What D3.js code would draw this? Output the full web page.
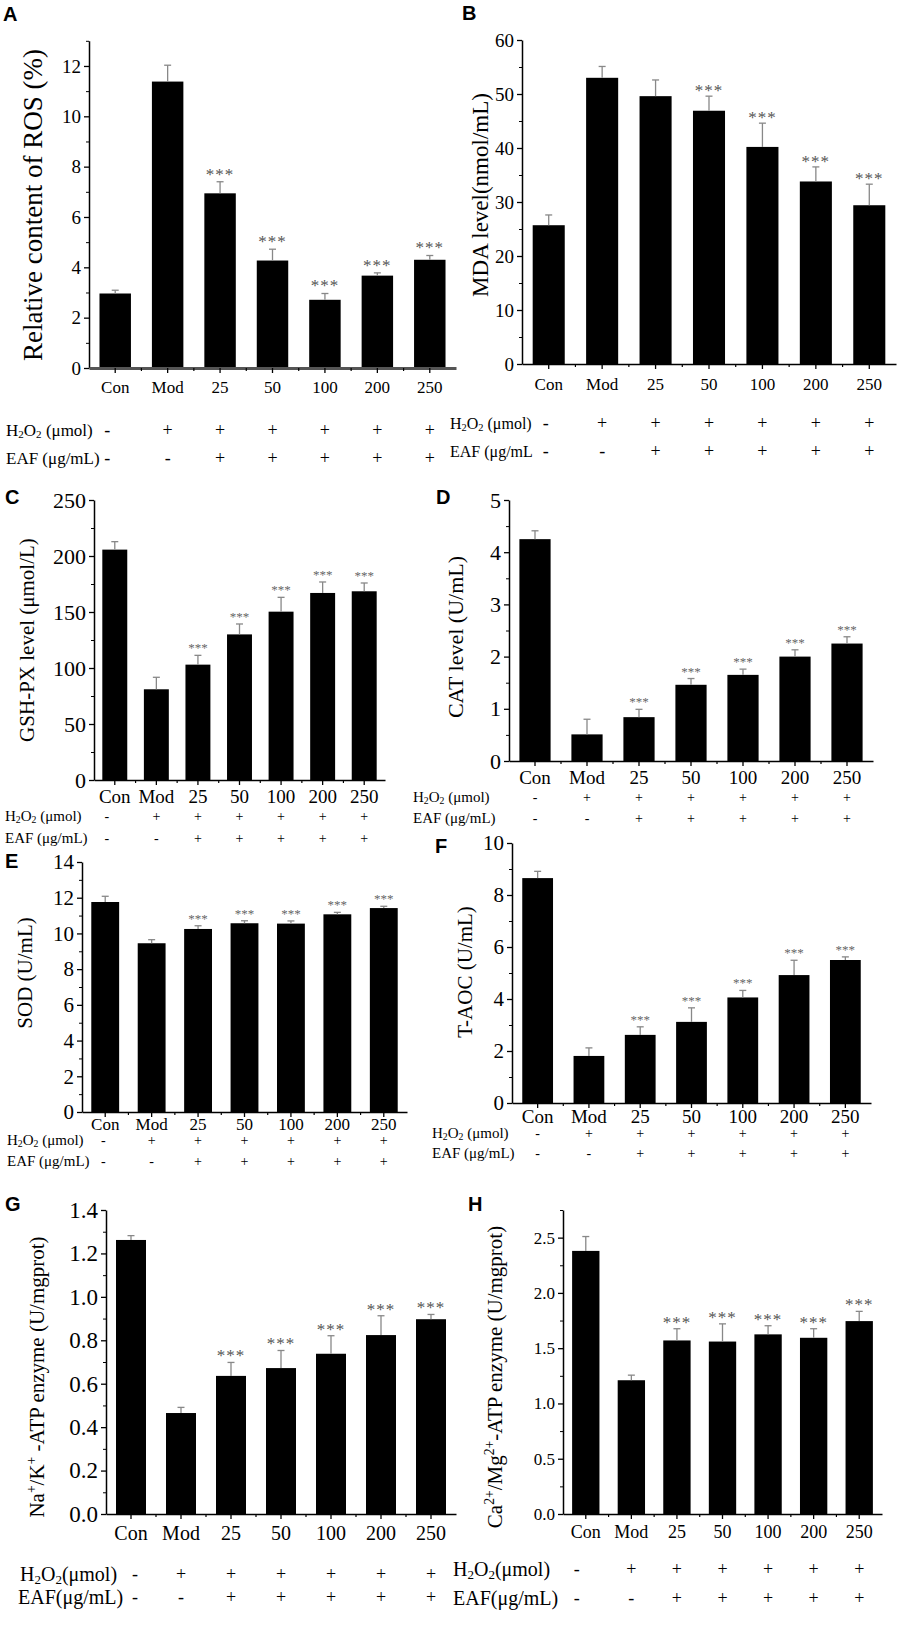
<html>
<head>
<script src="https://cdn.jsdelivr.net/npm/d3@7"></script>
<style>
  body { margin: 0; background: #fff; }
  svg { display: block; background: #fff; }
  text { font-family: "Liberation Serif", "Times New Roman", serif; }
  .letter { font-family: "Liberation Sans", Arial, sans-serif; font-weight: bold; }
</style>
</head>
<body>
<div id="fig"></div>
<script>
// ---- data ----
var categories = ["Con", "Mod", "25", "50", "100", "200", "250"];
var h2o2Signs = ["-", "+", "+", "+", "+", "+", "+"];
var eafSigns  = ["-", "-", "+", "+", "+", "+", "+"];

var rosMean  = [2.96, 11.38, 6.94, 4.27, 2.71, 3.67, 4.30];
var rosSd    = [0.13, 0.65, 0.46, 0.45, 0.25, 0.11, 0.17];
var rosStars = [0, 0, 1, 1, 1, 1, 1];

var mdaMean  = [25.7, 53.0, 49.6, 46.9, 40.2, 33.8, 29.4];
var mdaSd    = [1.9, 2.1, 3.0, 2.7, 4.4, 2.7, 3.9];
var mdaStars = [0, 0, 0, 1, 1, 1, 1];

var gshMean  = [205.7, 81, 103, 130, 150.3, 167, 168.5];
var gshSd    = [7.1, 10.7, 8.3, 9.3, 12.8, 9.8, 7.4];
var gshStars = [0, 0, 1, 1, 1, 1, 1];

var catMean  = [4.25, 0.51, 0.84, 1.46, 1.65, 2.0, 2.25];
var catSd    = [0.16, 0.29, 0.15, 0.12, 0.11, 0.13, 0.13];
var catStars = [0, 0, 1, 1, 1, 1, 1];

var sodMean  = [11.76, 9.45, 10.25, 10.57, 10.55, 11.07, 11.42];
var sodSd    = [0.32, 0.20, 0.18, 0.14, 0.15, 0.11, 0.10];
var sodStars = [0, 0, 1, 1, 1, 1, 1];

var taocMean  = [8.65, 1.81, 2.62, 3.12, 4.06, 4.92, 5.50];
var taocSd    = [0.26, 0.31, 0.31, 0.54, 0.27, 0.57, 0.12];
var taocStars = [0, 0, 1, 1, 1, 1, 1];

var nakMean  = [1.262, 0.465, 0.636, 0.672, 0.738, 0.824, 0.897];
var nakSd    = [0.02, 0.026, 0.062, 0.081, 0.083, 0.089, 0.022];
var nakStars = [0, 0, 1, 1, 1, 1, 1];

var camgMean  = [2.38, 1.21, 1.57, 1.56, 1.625, 1.594, 1.745];
var camgSd    = [0.13, 0.046, 0.106, 0.16, 0.078, 0.082, 0.088];
var camgStars = [0, 0, 1, 1, 1, 1, 1];

var width = 902, height = 1637;
var svg = d3.select("#fig").append("svg").attr("width", width).attr("height", height);

// writes "H_{2}O_{2}" / "Na^{+}" style strings as tspans
function rich(sel, str) {
  var re = /([_^])\{([^}]*)\}|([^_^]+)/g, m;
  while ((m = re.exec(str)) !== null) {
    if (m[3]) { sel.append("tspan").text(m[3]); }
    else {
      sel.append("tspan").text(m[2])
        .attr("font-size", "65%")
        .attr("baseline-shift", m[1] == "_" ? "-20%" : "60%");
    }
  }
}

function panel(p) {
  var g = svg.append("g");
  var x = d3.scaleBand().domain(categories).range([p.x0, p.x1]).paddingInner(0.4).paddingOuter(0.2);
  var y = d3.scaleLinear().domain([0, p.yMax]).range([p.y0, p.yTop]);
  var cx = function(i) { return x(categories[i]) + x.bandwidth() / 2; };

  // bars
  g.selectAll("rect.bar").data(p.mean).join("rect")
    .attr("class", "bar")
    .attr("x", function(d, i) { return x(categories[i]); })
    .attr("width", x.bandwidth())
    .attr("y", function(d) { return y(d); })
    .attr("height", function(d) { return y(0) - y(d); })
    .attr("fill", "#000");

  // error bars (upper only)
  g.selectAll("line.err").data(p.mean).join("line")
    .attr("class", "err")
    .attr("x1", function(d, i) { return cx(i); }).attr("x2", function(d, i) { return cx(i); })
    .attr("y1", function(d) { return y(d); })
    .attr("y2", function(d, i) { return y(d + p.sd[i]); })
    .attr("stroke", "#888").attr("stroke-width", 1.3);
  g.selectAll("line.cap").data(p.mean).join("line")
    .attr("class", "cap")
    .attr("x1", function(d, i) { return cx(i) - 3.5; }).attr("x2", function(d, i) { return cx(i) + 3.5; })
    .attr("y1", function(d, i) { return y(d + p.sd[i]); })
    .attr("y2", function(d, i) { return y(d + p.sd[i]); })
    .attr("stroke", "#888").attr("stroke-width", 1.3);

  // significance stars
  g.selectAll("text.star").data(p.mean).join("text")
    .attr("class", "star")
    .attr("x", function(d, i) { return cx(i); })
    .attr("y", function(d, i) { return y(d + p.sd[i]) - p.starGap; })
    .attr("text-anchor", "middle")
    .attr("font-size", p.starFont)
    .attr("fill", p.starColor)
    .attr("letter-spacing", p.starSpace)
    .text(function(d, i) { return p.stars[i] ? "***" : ""; });

  // y axis
  var yAxis = d3.axisLeft(y)
    .tickValues(d3.range(0, p.yMax + 1e-9, p.major))
    .tickFormat(d3.format(p.fmt))
    .tickSize(5).tickSizeOuter(0).tickPadding(3);
  var ya = g.append("g").attr("transform", "translate(" + p.x0 + ",0)").call(yAxis);
  ya.select(".domain").attr("stroke-width", 1.5);
  ya.selectAll(".tick line").attr("stroke-width", 1.3);
  ya.selectAll(".tick text").attr("font-size", p.tickFont).attr("fill", "#000")
    .attr("font-family", "Liberation Serif, serif");
  var yMinor = d3.axisLeft(y)
    .tickValues(d3.range(p.major / 2, p.yMax + 1e-9, p.major))
    .tickFormat("").tickSize(3).tickSizeOuter(0);
  var ym = g.append("g").attr("transform", "translate(" + p.x0 + ",0)").call(yMinor);
  ym.select(".domain").remove();

  // x axis
  var xAxis = d3.axisBottom(x).tickSize(5).tickSizeOuter(0);
  var xa = g.append("g").attr("transform", "translate(0," + p.y0 + ")").call(xAxis);
  xa.select(".domain").attr("stroke", p.xAxisColor).attr("stroke-width", p.xAxisWidth);
  xa.selectAll(".tick line").attr("stroke-width", 1.3);
  xa.selectAll(".tick text").attr("font-size", p.xFont).attr("fill", "#000")
    .attr("font-family", "Liberation Serif, serif")
    .attr("y", p.xLabelDy).attr("dy", "0.35em");
  // minor x ticks between categories
  g.selectAll("line.xminor").data(categories.slice(1)).join("line")
    .attr("class", "xminor")
    .attr("x1", function(d) { return x(d) - x.step() * x.paddingInner() / 2; })
    .attr("x2", function(d) { return x(d) - x.step() * x.paddingInner() / 2; })
    .attr("y1", p.y0).attr("y2", p.y0 + 3)
    .attr("stroke", "#000").attr("stroke-width", 1.2);

  // y label
  var yl = g.append("text")
    .attr("transform", "translate(" + p.yLabelX + "," + p.yLabelY + ") rotate(-90)")
    .attr("text-anchor", "middle").attr("dy", "0.35em")
    .attr("font-size", p.yLabelFont);
  rich(yl, p.yLabel);

  // panel letter
  g.append("text").attr("class", "letter")
    .attr("x", p.letterX).attr("y", p.letterY)
    .attr("font-size", 20).text(p.letter);

  // treatment rows
  var rows = [[p.rowLabels[0], h2o2Signs], [p.rowLabels[1], eafSigns]];
  rows.forEach(function(r, k) {
    var t = g.append("text")
      .attr("x", p.rowX[k]).attr("y", p.rowY[k]).attr("dy", "0.35em")
      .attr("font-size", p.rowFont);
    rich(t, r[0]);
    g.selectAll("text.sign" + k).data(r[1]).join("text")
      .attr("class", "sign" + k)
      .attr("x", function(d, i) { return cx(i) + (i == 0 ? p.dash0 : 0); })
      .attr("y", p.rowY[k]).attr("dy", "0.35em")
      .attr("text-anchor", "middle")
      .attr("font-size", p.signFont)
      .text(function(d) { return d; });
  });
}

var common = { fmt: "d", starColor: "#555", starSpace: 0, xAxisColor: "#000", xAxisWidth: 1.5 };
function cfg(o) { return Object.assign({}, common, o); }

panel(cfg({
  letter: "A", letterX: 3, letterY: 21,
  mean: rosMean, sd: rosSd, stars: rosStars,
  x0: 89, x1: 456, y0: 368, yTop: 40.8, yMax: 13, major: 2,
  tickFont: 19, xFont: 17, xLabelDy: 19,
  xAxisColor: "#555", xAxisWidth: 3,
  yLabel: "Relative content of ROS (%)", yLabelX: 33, yLabelY: 205, yLabelFont: 27,
  starFont: 17, starGap: 2, starSpace: 1,
  rowLabels: ["H_{2}O_{2} (μmol)", "EAF (μg/mL)"], rowX: [6, 6], rowY: [430, 458],
  rowFont: 17, signFont: 18, dash0: -8
}));

panel(cfg({
  letter: "B", letterX: 462, letterY: 20,
  mean: mdaMean, sd: mdaSd, stars: mdaStars,
  x0: 522, x1: 896, y0: 364, yTop: 40, yMax: 60, major: 10,
  tickFont: 19, xFont: 17, xLabelDy: 20,
  yLabel: "MDA level(nmol/mL)", yLabelX: 480, yLabelY: 195, yLabelFont: 23,
  starFont: 17, starGap: 0, starSpace: 1,
  rowLabels: ["H_{2}O_{2} (μmol)", "EAF (μg/mL"], rowX: [450, 450], rowY: [423, 451],
  rowFont: 16, signFont: 18, dash0: -3
}));

panel(cfg({
  letter: "C", letterX: 5, letterY: 504,
  mean: gshMean, sd: gshSd, stars: gshStars,
  x0: 94, x1: 385, y0: 780, yTop: 500, yMax: 250, major: 50,
  tickFont: 22, xFont: 19, xLabelDy: 16,
  yLabel: "GSH-PX level (μmol/L)", yLabelX: 27, yLabelY: 640, yLabelFont: 21,
  starFont: 13, starGap: 3, starColor: "#666",
  rowLabels: ["H_{2}O_{2} (μmol)", "EAF (μg/mL)"], rowX: [5, 5], rowY: [816, 838],
  rowFont: 15, signFont: 14, dash0: -8
}));

panel(cfg({
  letter: "D", letterX: 436, letterY: 504,
  mean: catMean, sd: catSd, stars: catStars,
  x0: 509, x1: 873, y0: 761, yTop: 500, yMax: 5, major: 1,
  tickFont: 22, xFont: 19, xLabelDy: 16,
  yLabel: "CAT level (U/mL)", yLabelX: 455, yLabelY: 637, yLabelFont: 22,
  starFont: 13, starGap: 3, starColor: "#666",
  rowLabels: ["H_{2}O_{2} (μmol)", "EAF (μg/mL)"], rowX: [413, 413], rowY: [797, 818],
  rowFont: 15, signFont: 14, dash0: 0
}));

panel(cfg({
  letter: "E", letterX: 5, letterY: 868,
  mean: sodMean, sd: sodSd, stars: sodStars,
  x0: 82, x1: 407, y0: 1112, yTop: 862, yMax: 14, major: 2,
  tickFont: 21, xFont: 17, xLabelDy: 12,
  yLabel: "SOD (U/mL)", yLabelX: 25, yLabelY: 973, yLabelFont: 21,
  starFont: 13, starGap: 3, starColor: "#666",
  rowLabels: ["H_{2}O_{2} (μmol)", "EAF (μg/mL)"], rowX: [7, 7], rowY: [1140, 1161],
  rowFont: 15, signFont: 14, dash0: -2
}));

panel(cfg({
  letter: "F", letterX: 435, letterY: 853,
  mean: taocMean, sd: taocSd, stars: taocStars,
  x0: 512, x1: 871, y0: 1103, yTop: 843, yMax: 10, major: 2,
  tickFont: 21, xFont: 19, xLabelDy: 13,
  yLabel: "T-AOC (U/mL)", yLabelX: 465, yLabelY: 972, yLabelFont: 21,
  starFont: 13, starGap: 3, starColor: "#666",
  rowLabels: ["H_{2}O_{2} (μmol)", "EAF (μg/mL)"], rowX: [432, 432], rowY: [1133, 1153],
  rowFont: 15, signFont: 14, dash0: 0
}));

panel(cfg({
  letter: "G", letterX: 5, letterY: 1211, fmt: ".1f",
  mean: nakMean, sd: nakSd, stars: nakStars,
  x0: 106, x1: 456, y0: 1514, yTop: 1210, yMax: 1.4, major: 0.2,
  tickFont: 23, xFont: 20, xLabelDy: 19,
  yLabel: "Na^{+}/K^{+} -ATP enzyme (U/mgprot)", yLabelX: 37, yLabelY: 1377, yLabelFont: 21,
  starFont: 17, starGap: 1, starSpace: 1,
  rowLabels: ["H_{2}O_{2}(μmol)", "EAF(μg/mL)"], rowX: [20, 18], rowY: [1574, 1597],
  rowFont: 20, signFont: 18, dash0: 4
}));

panel(cfg({
  letter: "H", letterX: 468, letterY: 1211, fmt: ".1f",
  mean: camgMean, sd: camgSd, stars: camgStars,
  x0: 563, x1: 882, y0: 1514, yTop: 1210, yMax: 2.75, major: 0.5,
  tickFont: 17, xFont: 18, xLabelDy: 18,
  yLabel: "Ca^{2+}/Mg^{2+}-ATP enzyme (U/mgprot)", yLabelX: 495, yLabelY: 1377, yLabelFont: 21,
  starFont: 17, starGap: 1, starSpace: 1,
  rowLabels: ["H_{2}O_{2}(μmol)", "EAF(μg/mL)"], rowX: [453, 453], rowY: [1569, 1598],
  rowFont: 20, signFont: 18, dash0: -9
}));
</script>
</body>
</html>
